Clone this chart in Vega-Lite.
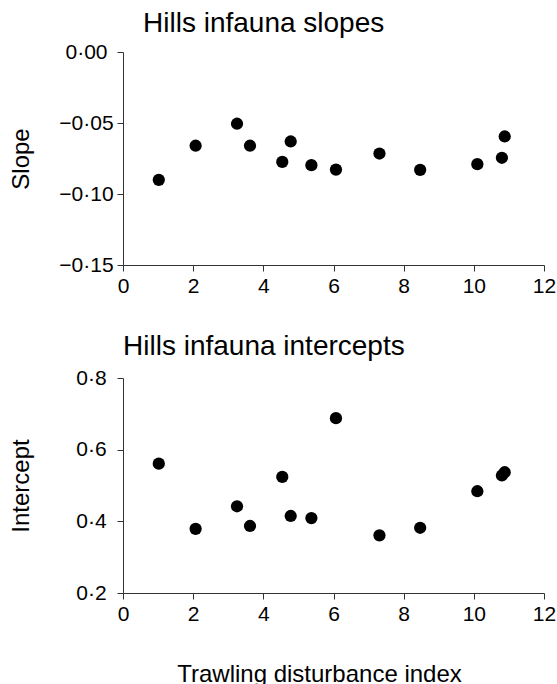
{
  "$schema": "https://vega.github.io/schema/vega-lite/v6.json",
  "padding": {"left": 8, "top": 9, "right": 0, "bottom": 0},
  "background": "white",
  "config": {
    "font": "Liberation Sans",
    "view": {"stroke": null},
    "axis": {
      "grid": false,
      "domainColor": "#333333",
      "tickColor": "#333333",
      "labelColor": "black",
      "titleColor": "black",
      "labelFont": "Liberation Sans",
      "titleFont": "Liberation Sans",
      "labelFontSize": 21,
      "titleFontSize": 24,
      "titleFontWeight": "normal",
      "tickSize": 6,
      "labelFlush": false,
      "labelOverlap": false
    },
    "title": {
      "font": "Liberation Sans",
      "fontSize": 28,
      "fontWeight": "normal",
      "anchor": "start",
      "frame": "group",
      "baseline": "alphabetic",
      "color": "black"
    }
  },
  "datasets": {
    "hills": [
      {"index": 1.02, "slope": -0.090, "intercept": 0.561},
      {"index": 2.07, "slope": -0.066, "intercept": 0.379},
      {"index": 3.25, "slope": -0.0505, "intercept": 0.442},
      {"index": 3.62, "slope": -0.066, "intercept": 0.387},
      {"index": 4.54, "slope": -0.0774, "intercept": 0.524},
      {"index": 4.78, "slope": -0.063, "intercept": 0.415},
      {"index": 5.37, "slope": -0.0797, "intercept": 0.409},
      {"index": 6.07, "slope": -0.0828, "intercept": 0.688},
      {"index": 7.31, "slope": -0.0715, "intercept": 0.361},
      {"index": 8.47, "slope": -0.083, "intercept": 0.382},
      {"index": 10.10, "slope": -0.079, "intercept": 0.484},
      {"index": 10.80, "slope": -0.0745, "intercept": 0.528},
      {"index": 10.88, "slope": -0.0595, "intercept": 0.537}
    ]
  },
  "spacing": 113,
  "bounds": "flush",
  "vconcat": [
    {
      "width": 421,
      "height": 213,
      "title": {"text": "Hills infauna slopes", "dx": 20, "offset": 3.5},
      "data": {"name": "hills"},
      "mark": {"type": "circle", "size": 150, "color": "black", "opacity": 1},
      "encoding": {
        "x": {
          "field": "index",
          "type": "quantitative",
          "scale": {"domain": [0, 12], "nice": false},
          "axis": {"values": [0, 2, 4, 6, 8, 10, 12], "title": null, "labelPadding": 4}
        },
        "y": {
          "field": "slope",
          "type": "quantitative",
          "scale": {"domain": [-0.15, 0], "nice": false, "zero": false},
          "axis": {
            "values": [-0.15, -0.1, -0.05, 0],
            "labelExpr": "replace(format(datum.value, '.2f'), '.', '·')",
            "labelAlign": "center",
            "labelPadding": 31,
            "title": "Slope",
            "titleAngle": -90,
            "titleX": -90,
            "titleY": 106.5,
            "titleAlign": "center"
          }
        }
      }
    },
    {
      "width": 421,
      "height": 215,
      "title": {"text": "Hills infauna intercepts", "dx": 0, "offset": 6},
      "data": {"name": "hills"},
      "mark": {"type": "circle", "size": 150, "color": "black", "opacity": 1},
      "encoding": {
        "x": {
          "field": "index",
          "type": "quantitative",
          "scale": {"domain": [0, 12], "nice": false},
          "axis": {
            "values": [0, 2, 4, 6, 8, 10, 12],
            "labelPadding": 4,
            "title": "Trawling disturbance index",
            "titleX": 196,
            "titleY": 88,
            "titleAlign": "center",
            "titleBaseline": "alphabetic"
          }
        },
        "y": {
          "field": "intercept",
          "type": "quantitative",
          "scale": {"domain": [0.2, 0.8], "nice": false, "zero": false},
          "axis": {
            "values": [0.2, 0.4, 0.6, 0.8],
            "labelExpr": "replace(format(datum.value, '.1f'), '.', '·')",
            "labelAlign": "center",
            "labelPadding": 26,
            "title": "Intercept",
            "titleAngle": -90,
            "titleX": -90,
            "titleY": 107.5,
            "titleAlign": "center"
          }
        }
      }
    }
  ]
}
